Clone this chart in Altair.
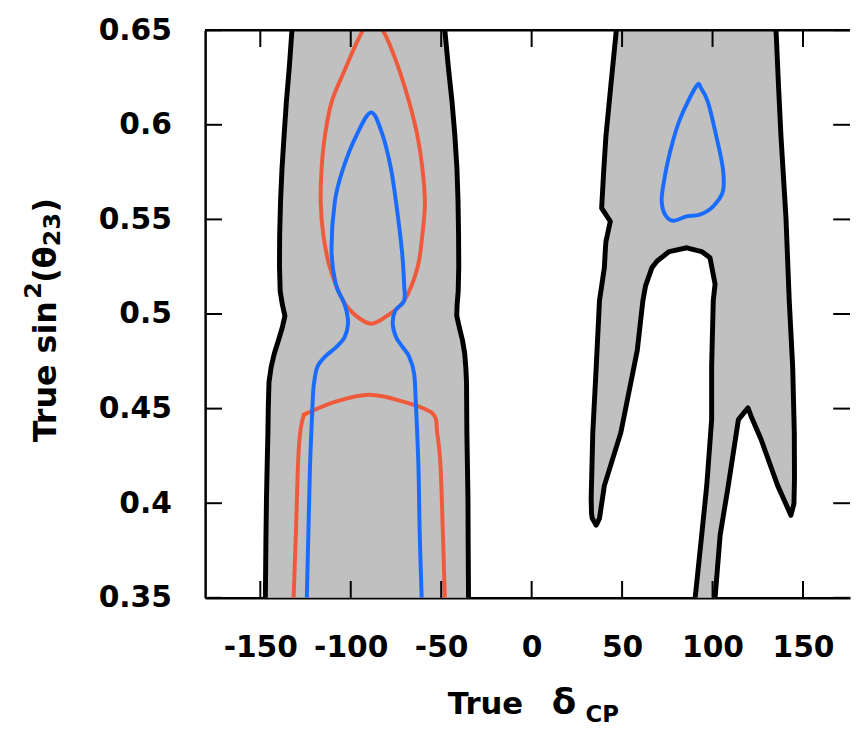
import altair as alt
import pandas as pd

# ---------------- axes ----------------
x_ticks = [-150, -100, -50, 0, 50, 100, 150]
y_ticks = [0.35, 0.40, 0.45, 0.50, 0.55, 0.60, 0.65]
x_domain = [-180.5, 176.0]
y_domain = [0.35, 0.65]

W, H = 651, 573

# ---------------- grey allowed region, left band (y, left x, right x) ----------------
bandL_y = [0.65, 0.63, 0.612, 0.595, 0.577, 0.56, 0.542, 0.525, 0.512, 0.505, 0.499,
           0.493, 0.486, 0.479, 0.472, 0.464, 0.45, 0.437, 0.42, 0.402, 0.38, 0.35]
bandL_x1 = [-132.5, -134.0, -135.6, -136.8, -138.0, -138.8, -139.3, -139.4, -139.0, -137.8, -136.4,
            -137.8, -140.0, -142.3, -144.0, -145.2, -145.6, -145.8, -146.2, -146.6, -146.9, -147.2]
bandL_x2 = [-48.0, -46.0, -44.0, -42.5, -41.3, -40.7, -40.4, -40.3, -40.6, -41.2, -41.4,
            -40.0, -38.2, -37.0, -36.4, -36.0, -35.9, -35.8, -35.5, -35.2, -35.1, -34.9]

# ---------------- grey allowed region, right part (horizontal slices) ----------------
# upper body
rA1_y = [0.65, 0.62, 0.5944, 0.575, 0.556, 0.549, 0.5385, 0.535]
rA1_x1 = [46.8, 43.7, 41.1, 39.8, 38.7, 43.5, 41.1, 40.8]
rA1_x2 = [135.1, 136.5, 137.8, 139.0, 140.2, 140.6, 141.0, 141.2]
# left prong
rA2_y = [0.535, 0.533, 0.528, 0.5245, 0.515, 0.5071, 0.4809, 0.4721, 0.4373, 0.4093,
         0.4024, 0.3945, 0.392, 0.3884]
rA2_x1 = [40.8, 40.6, 40.3, 40.2, 38.8, 37.5, 36.2, 35.7, 33.8, 33.0, 32.9, 33.1, 33.5, 35.7]
rA2_x2 = [85.8, 76.0, 69.4, 66.5, 63.0, 61.5, 58.4, 56.5, 49.3, 40.2, 39.0, 37.8, 37.5, 35.7]
# right body above the small arch
rB_y = [0.535, 0.533, 0.5297, 0.5158, 0.5071, 0.4721, 0.4504]
rB_x1 = [85.8, 94.0, 98.6, 101.4, 100.4, 99.5, 99.5]
rB_x2 = [141.2, 141.3, 141.5, 142.0, 142.4, 144.3, 145.0]
# thin sliver down to the axis
rC_y = [0.4504, 0.4442, 0.4338, 0.4093, 0.3831, 0.35]
rC_x1 = [99.5, 99.5, 98.8, 96.8, 94.0, 90.4]
rC_x2 = [119.6, 114.3, 112.6, 108.7, 104.2, 101.4]
# right prong
rD_y = [0.4504, 0.446, 0.4338, 0.4093, 0.3997, 0.3936]
rD_x1 = [119.6, 121.3, 126.8, 136.0, 140.5, 143.3]
rD_x2 = [145.0, 145.1, 145.2, 145.3, 145.0, 143.3]

# ---------------- black boundaries ----------------
outR1_x = [46.8, 43.7, 41.1, 39.8, 38.7, 43.5, 41.1, 40.8, 40.2, 37.5, 35.7, 33.8, 32.9,
           33.1, 33.5, 35.7, 37.5, 40.2, 49.3, 58.4, 61.5, 63.0, 66.5, 69.4, 76.0, 85.8, 94.0,
           98.6, 101.4, 100.4, 99.5, 99.5, 96.8, 94.0, 90.4]
outR1_y = [0.65, 0.62, 0.5944, 0.575, 0.556, 0.549, 0.5385, 0.535, 0.5245, 0.5071,
           0.4721, 0.4373, 0.4024, 0.3945, 0.392, 0.3884, 0.392, 0.4093, 0.4373, 0.4809,
           0.5071, 0.515, 0.5245, 0.528, 0.533, 0.535, 0.533, 0.5297, 0.5158, 0.5071, 0.4721,
           0.4442, 0.4093, 0.3831, 0.35]
outR2_x = [101.4, 104.2, 108.7, 114.3, 119.6, 121.3, 126.8, 136.0, 140.5, 143.3, 145.0, 145.3,
           145.2, 144.3, 142.4, 140.6, 137.8, 136.5, 135.1]
outR2_y = [0.35, 0.3831, 0.4093, 0.4442, 0.4504, 0.446, 0.4338, 0.4093, 0.3997, 0.3936, 0.3997,
           0.4128, 0.4373, 0.4721, 0.5071, 0.5507, 0.5944, 0.62, 0.65]

# ---------------- red contour ----------------
redU_x = [-93.3, -96.9, -103.3, -110.6, -114.3, -116.1, -116.6, -115.2, -111.5, -104.2, -97.0,
          -88.7, -80.0, -70.5, -63.1, -60.4, -59.0, -60.4, -63.1, -67.7, -73.2, -78.7, -82.3]
redU_y = [0.65, 0.643, 0.629, 0.612, 0.594, 0.577, 0.559, 0.542, 0.5245, 0.507, 0.499,
          0.4949, 0.499, 0.507, 0.5245, 0.542, 0.559, 0.577, 0.594, 0.612, 0.629, 0.643, 0.65]
redL_x = [-131.6, -130.3, -129.2, -128.0, -126.1, -124.3, -107.9, -89.6, -71.4, -54.9, -52.2,
          -50.4, -49.1, -48.0]
redL_y = [0.35, 0.385, 0.42, 0.437, 0.446, 0.4475, 0.4538, 0.4573, 0.4538, 0.4475, 0.437,
          0.42, 0.385, 0.35]

# ---------------- blue contour ----------------
blueL_x = [-124.3, -123.4, -122.5, -121.0, -120.3, -118.5, -114.3, -107.9, -103.3, -101.5,
           -102.4, -104.2, -108.3, -110.6, -108.8, -104.2, -96.9, -88.7, -82.3, -77.8, -75.0,
           -71.7, -70.5, -70.5, -75.4, -76.8, -75.0, -71.4, -67.7, -65.0, -64.1, -62.6, -61.9,
           -60.8]
blueL_y = [0.35, 0.385, 0.42, 0.455, 0.4634, 0.472, 0.4774, 0.4826, 0.4879, 0.4949, 0.5018,
           0.507, 0.5158, 0.5333, 0.5594, 0.5769, 0.5943, 0.6065, 0.5943, 0.5769, 0.5594,
           0.5333, 0.5158, 0.507, 0.5018, 0.4949, 0.4879, 0.4826, 0.4774, 0.4687, 0.4547,
           0.42, 0.385, 0.35]
blueR_x = [91.1, 82.0, 76.5, 72.8, 71.9, 73.8, 78.3, 85.6, 92.9, 100.2, 105.7, 105.7, 102.0,
           97.5, 93.8]
blueR_y = [0.6205, 0.603, 0.5856, 0.5682, 0.5594, 0.5525, 0.5493, 0.5516, 0.5525, 0.5568,
           0.5647, 0.5769, 0.5943, 0.6118, 0.6191]

# ---------------- titles ----------------
xtitle_parts = ["True", "δ", "CP"]
ytitle_parts = ["True sin", "2", "(θ", "23", ")"]

GREY = "#c0c0c0"
RED = "#f05a3c"
BLUE = "#1a6cff"
FONT = "DejaVu Sans"

xaxis = alt.Axis(values=x_ticks, labelExpr="'' + datum.value", ticks=False, tickSize=0,
                 grid=False, domain=True, domainColor="black", domainWidth=2.5,
                 labelFont=FONT, labelFontWeight="bold", labelFontSize=30,
                 labelColor="black", labelPadding=35, labelOverlap=False,
                 labelFlush=False, title=None)
yaxis = alt.Axis(values=y_ticks, format=".2~f", ticks=False, tickSize=0,
                 grid=False, domain=True, domainColor="black", domainWidth=2.5,
                 labelFont=FONT, labelFontWeight="bold", labelFontSize=30,
                 labelColor="black", labelPadding=34, labelOverlap=False,
                 labelFlush=False, title=None)

X = alt.X("x:Q", scale=alt.Scale(domain=x_domain, nice=False, zero=False), axis=xaxis)
Y = alt.Y("y:Q", scale=alt.Scale(domain=y_domain, nice=False, zero=False), axis=yaxis)


def slices(parts):
    rows = []
    for name, ys, x1s, x2s in parts:
        for yy, a, b in zip(ys, x1s, x2s):
            rows.append({"g": name, "y": yy, "x": a, "x2": b})
    return pd.DataFrame(rows)


def paths(parts):
    rows = []
    for name, xs, ys in parts:
        for i, (a, b) in enumerate(zip(xs, ys)):
            rows.append({"g": name, "i": i, "x": a, "y": b})
    return pd.DataFrame(rows)


grey_df = slices([
    ("L", bandL_y, bandL_x1, bandL_x2),
    ("A1", rA1_y, rA1_x1, rA1_x2),
    ("A2", rA2_y, rA2_x1, rA2_x2),
    ("B", rB_y, rB_x1, rB_x2),
    ("C", rC_y, rC_x1, rC_x2),
    ("D", rD_y, rD_x1, rD_x2),
])

black_df = paths([
    ("l1", bandL_x1, bandL_y),
    ("l2", bandL_x2, bandL_y),
    ("r1", outR1_x, outR1_y),
    ("r2", outR2_x, outR2_y),
])
red_df = paths([("u", redU_x, redU_y), ("l", redL_x, redL_y)])
blueL_df = paths([("l", blueL_x, blueL_y)])
blueR_df = paths([("r", blueR_x, blueR_y)])

grey = alt.Chart(grey_df).mark_area(orient="horizontal", color=GREY, stroke=GREY,
                                    strokeWidth=1, clip=True).encode(
    y=Y, x=X, x2=alt.X2("x2:Q"), detail="g:N")


def contour(df, color, width, interp="linear"):
    return alt.Chart(df).mark_line(color=color, strokeWidth=width, clip=True,
                                   interpolate=interp,
                                   strokeJoin="round", strokeCap="round").encode(
        x=X, y=Y, order="i:Q", detail="g:N")


black = contour(black_df, "black", 5)
red = contour(red_df, RED, 4, "cardinal")
blueL = contour(blueL_df, BLUE, 4, "cardinal")
blueR = contour(blueR_df, BLUE, 4, "cardinal-closed")

xt_df = pd.DataFrame({"x": x_ticks})
yt_df = pd.DataFrame({"y": y_ticks})
tick_kw = dict(color="black", strokeWidth=2)
xt_bottom = alt.Chart(xt_df).mark_rule(**tick_kw).encode(x=X, y=alt.value(H), y2=alt.value(H - 17))
xt_top = alt.Chart(xt_df).mark_rule(**tick_kw).encode(x=X, y=alt.value(0), y2=alt.value(17))
yt_left = alt.Chart(yt_df).mark_rule(**tick_kw).encode(y=Y, x=alt.value(0), x2=alt.value(17))
yt_right = alt.Chart(yt_df).mark_rule(**tick_kw).encode(y=Y, x=alt.value(W), x2=alt.value(W - 17))
top_frame = alt.Chart(pd.DataFrame({"k": [0]})).mark_rule(color="black", strokeWidth=2.5).encode(
    x=alt.value(0), x2=alt.value(W), y=alt.value(0))


def label(txt, px, py, size, angle=0):
    return alt.Chart(pd.DataFrame({"t": [txt]})).mark_text(
        font=FONT, fontWeight="bold", fontSize=size, color="black", align="left",
        baseline="alphabetic", angle=angle).encode(
        text="t:N", x=alt.value(px), y=alt.value(py))


texts = [
    label(xtitle_parts[0], 245, 690, 31),
    label(xtitle_parts[1], 350, 690, 36),
    label(xtitle_parts[2], 384, 698, 23),
    label(ytitle_parts[0], -151, 416, 32, 270),
    label(ytitle_parts[1], -166, 271, 24, 270),
    label(ytitle_parts[2], -151, 255, 32, 270),
    label(ytitle_parts[3], -147, 218, 24, 270),
    label(ytitle_parts[4], -151, 184, 32, 270),
]

chart = alt.layer(grey, black, red, blueL, blueR, xt_bottom, xt_top, yt_left, yt_right,
                  top_frame, *texts).properties(
    width=W, height=H,
    padding={"left": 199, "top": 19, "right": 2, "bottom": 126},
    autosize=alt.AutoSizeParams(type="none"),
).configure_view(stroke=None)

chart.save("out.html", embed_options={"renderer": "svg", "actions": False})
